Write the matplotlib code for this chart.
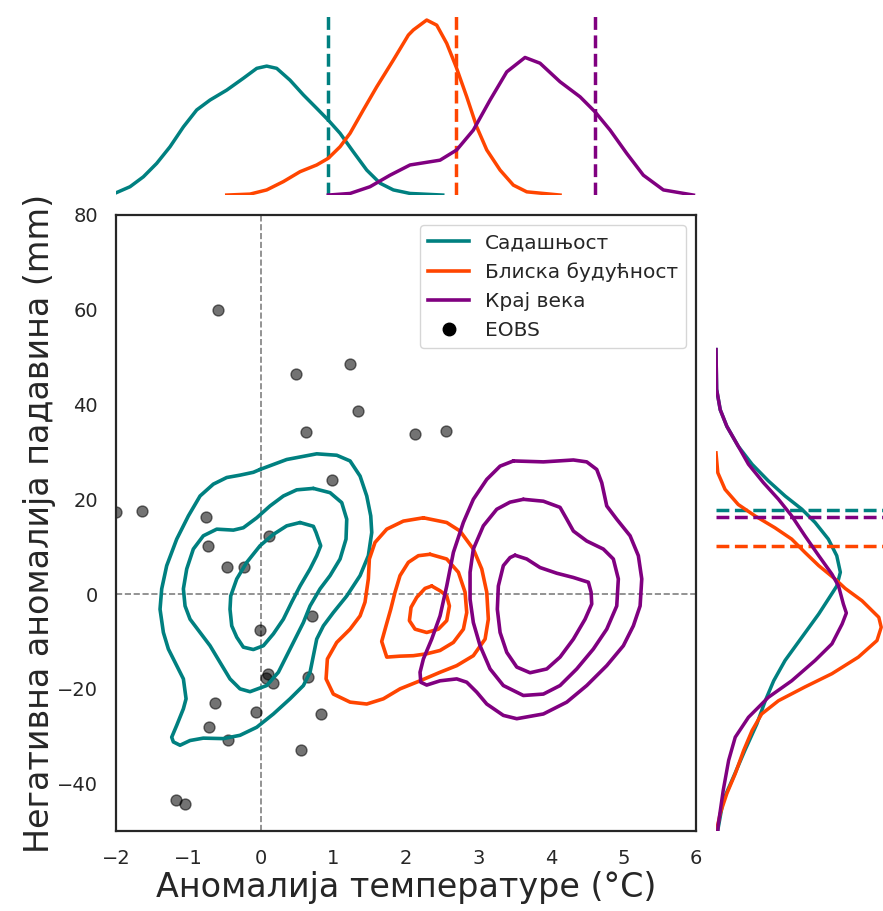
import matplotlib
matplotlib.use("Agg")
import matplotlib.pyplot as plt
import numpy as np
from matplotlib.lines import Line2D

# ---- data ----
COL_NOW, COL_NEAR, COL_END = "#008080", "#FF4500", "#800080"

# EOBS observations (temperature anomaly, negative precipitation anomaly)
eobs_t = [-0.59, 0.48, 1.23, 1.34, 0.62, 2.12, 2.55, 0.98, -2.00, -1.64,
          -0.76, -0.73, 0.11, -0.47, -0.23, -0.01, 0.70, 0.10, 0.07, 0.17,
          0.65, -0.63, -0.07, 0.83, -0.72, -0.46, 0.55, -1.17, -1.05]
eobs_p = [60.0, 46.5, 48.6, 38.7, 34.1, 33.7, 34.5, 24.0, 17.3, 17.5,
          16.2, 10.1, 12.2, 5.7, 5.7, -7.6, -4.6, -16.8, -17.7, -18.7,
          -17.5, -22.9, -24.8, -25.3, -28.0, -30.7, -33.0, -43.4, -44.2]

# KDE contour levels (outer -> inner), as (temperature, precipitation) vertices
now_levels = [
    [(-0.014, 26.3), (0.354, 28.4), (0.768, 29.6), (1.044, 29.3), (1.228, 28.1), (1.366, 24.9),
     (1.458, 20.7), (1.513, 16.5), (1.527, 13.0), (1.480, 8.1), (1.366, 3.9), (1.182, -0.4),
     (0.997, -3.9), (0.860, -6.7), (0.768, -9.5), (0.722, -13.0), (0.676, -16.5), (0.584, -19.3),
     (0.400, -22.1), (0.170, -25.3), (-0.059, -28.1), (-0.290, -29.8), (-0.520, -30.5),
     (-0.796, -30.4), (-0.979, -30.9), (-1.117, -31.9), (-1.209, -31.2), (-1.232, -30.2),
     (-1.163, -27.7), (-1.071, -24.2), (-1.034, -22.1), (-1.071, -17.9), (-1.163, -15.1),
     (-1.278, -11.6), (-1.347, -8.1), (-1.393, -3.2), (-1.370, 1.1), (-1.301, 6.0),
     (-1.163, 11.6), (-1.002, 16.5), (-0.841, 20.7), (-0.658, 23.2), (-0.473, 24.6),
     (-0.290, 25.1), (-0.106, 25.7)],
    [(0.722, 22.3), (0.952, 21.4), (1.113, 19.3), (1.182, 15.8), (1.172, 11.6), (1.090, 7.4),
     (0.952, 3.9), (0.814, 1.1), (0.676, -2.5), (0.584, -6.0), (0.469, -9.5), (0.354, -13.0),
     (0.239, -16.5), (0.078, -19.3), (-0.152, -20.6), (-0.290, -20.0), (-0.428, -17.9),
     (-0.566, -14.4), (-0.703, -10.9), (-0.841, -8.1), (-0.979, -5.3), (-1.048, -2.5),
     (-1.071, 1.1), (-1.025, 5.3), (-0.934, 9.5), (-0.796, 12.3), (-0.611, 13.7),
     (-0.382, 13.5), (-0.244, 14.0), (-0.059, 16.1), (0.124, 18.6), (0.308, 20.7), (0.492, 22.0)],
    [(0.538, 15.1), (0.722, 14.3), (0.759, 13.0), (0.823, 10.2), (0.768, 8.1), (0.676, 5.3),
     (0.538, 1.7), (0.423, -1.7), (0.308, -5.3), (0.170, -8.4), (0.032, -10.9), (-0.106, -11.7),
     (-0.244, -11.2), (-0.335, -9.1), (-0.404, -6.7), (-0.428, -3.2), (-0.418, -0.4),
     (-0.335, 3.2), (-0.197, 6.7), (-0.014, 10.2), (0.170, 12.6), (0.354, 14.4)],
]
near_levels = [
    [(2.239, 16.1), (2.561, 15.1), (2.745, 13.3), (2.928, 9.5), (3.044, 5.3), (3.113, 0.4),
     (3.135, -5.3), (3.090, -9.5), (2.928, -13.0), (2.699, -15.1), (2.469, -16.5), (2.193, -18.3),
     (1.917, -20.0), (1.687, -22.1), (1.458, -23.2), (1.228, -22.8), (0.997, -21.1),
     (0.897, -17.9), (0.915, -13.7), (1.044, -10.2), (1.228, -7.4), (1.366, -4.6), (1.434, -1.7),
     (1.480, 3.2), (1.494, 7.4), (1.572, 10.9), (1.734, 13.7), (1.963, 15.4)],
    [(2.331, 8.4), (2.561, 7.4), (2.722, 4.6), (2.814, 0.4), (2.837, -3.9), (2.791, -7.4),
     (2.653, -10.2), (2.469, -11.9), (2.285, -12.6), (2.101, -13.0), (1.917, -13.1),
     (1.734, -13.3), (1.664, -10.0), (1.724, -6.7), (1.789, -3.2), (1.848, 0.4), (1.917, 3.9),
     (2.032, 6.7), (2.170, 8.1)],
    [(2.354, 1.7), (2.469, 0.7), (2.561, -0.4), (2.598, -2.5), (2.561, -5.6), (2.446, -7.4),
     (2.285, -8.1), (2.124, -7.4), (2.046, -5.6), (2.069, -2.8), (2.147, -0.7), (2.262, 1.2)],
]
end_levels = [
    [(3.480, 28.1), (3.894, 27.9), (4.308, 28.3), (4.492, 27.9), (4.630, 26.3), (4.699, 23.5),
     (4.768, 18.6), (4.906, 15.8), (5.090, 12.3), (5.204, 8.1), (5.251, 3.2), (5.228, -2.5),
     (5.135, -6.7), (4.997, -10.9), (4.768, -15.1), (4.492, -19.3), (4.217, -22.8),
     (3.894, -25.3), (3.527, -26.3), (3.342, -25.6), (3.113, -23.2), (2.975, -20.7),
     (2.837, -18.6), (2.699, -17.9), (2.469, -18.3), (2.285, -19.2), (2.203, -18.6),
     (2.193, -16.5), (2.239, -13.7), (2.354, -9.5), (2.469, -4.6), (2.561, 1.7), (2.653, 8.8),
     (2.790, 15.1), (2.928, 20.0), (3.113, 24.2), (3.297, 27.0)],
    [(3.618, 20.0), (3.894, 19.6), (4.124, 18.3), (4.217, 15.8), (4.308, 13.3), (4.492, 11.2),
     (4.721, 9.5), (4.859, 7.4), (4.928, 3.2), (4.906, -2.5), (4.768, -7.4), (4.583, -11.6),
     (4.354, -15.8), (4.124, -19.3), (3.894, -21.1), (3.618, -21.4), (3.342, -19.3),
     (3.159, -15.8), (3.021, -10.9), (2.928, -6.0), (2.883, -1.1), (2.883, 4.6), (2.928, 9.5),
     (3.066, 14.4), (3.251, 17.9), (3.434, 19.4)],
    [(3.503, 8.2), (3.665, 7.4), (3.848, 5.6), (4.079, 4.4), (4.308, 3.5), (4.515, 2.5),
     (4.552, 0.4), (4.561, -2.1), (4.469, -5.3), (4.308, -9.5), (4.124, -13.3), (3.941, -15.8),
     (3.710, -16.6), (3.527, -15.4), (3.389, -12.3), (3.297, -8.1), (3.259, -3.2),
     (3.273, 1.7), (3.342, 6.0), (3.434, 7.7)],
]

# marginal densities of temperature anomaly
t_now = [-2.0, -1.807, -1.623, -1.439, -1.255, -1.071, -0.887, -0.703, -0.473, -0.244, -0.059,
         0.078, 0.216, 0.400, 0.584, 0.768, 0.928, 1.090, 1.273, 1.458, 1.641, 1.825, 2.055, 2.506]
d_now = [0.007, 0.026, 0.057, 0.099, 0.151, 0.213, 0.266, 0.297, 0.328, 0.365, 0.396,
         0.403, 0.396, 0.359, 0.313, 0.271, 0.234, 0.193, 0.135, 0.078, 0.037, 0.016, 0.005, 0.0]
t_near = [-0.473, -0.152, 0.078, 0.308, 0.538, 0.768, 0.928, 1.090, 1.228, 1.411, 1.595, 1.825,
          2.032, 2.101, 2.285, 2.423, 2.561, 2.690, 2.837, 2.975, 3.113, 3.297, 3.480, 3.665, 4.124]
d_near = [0.0, 0.003, 0.016, 0.042, 0.073, 0.094, 0.115, 0.151, 0.193, 0.266, 0.338, 0.422,
          0.500, 0.516, 0.547, 0.531, 0.474, 0.401, 0.307, 0.213, 0.141, 0.078, 0.031, 0.010, 0.0]
t_end = [0.928, 1.228, 1.503, 1.779, 2.055, 2.193, 2.469, 2.699, 2.928, 3.159, 3.389, 3.641,
         3.848, 4.124, 4.400, 4.607, 4.814, 5.044, 5.273, 5.549, 5.963]
d_end = [0.0, 0.005, 0.026, 0.062, 0.094, 0.099, 0.109, 0.141, 0.203, 0.297, 0.385, 0.430,
         0.412, 0.354, 0.307, 0.260, 0.203, 0.130, 0.062, 0.016, 0.0]
t_lines = [0.93, 2.69, 4.60]

# marginal densities of precipitation anomaly
p_now = [51.6, 43.2, 38.9, 35.4, 31.2, 27.4, 23.9, 20.7, 17.9, 15.1, 11.6, 8.1, 4.6, 1.7, 0.7,
         -4.2, -9.1, -14.0, -18.3, -22.5, -27.4, -33.0, -38.6, -43.5, -49.8]
dp_now = [0.0, 0.0001, 0.0007, 0.0018, 0.0037, 0.0060, 0.0087, 0.0115, 0.0143, 0.0165, 0.0187,
          0.0201, 0.0207, 0.0201, 0.0196, 0.0171, 0.0143, 0.0115, 0.0096, 0.0082, 0.0068,
          0.0048, 0.0029, 0.0012, 0.0003]
p_near = [29.8, 25.6, 22.1, 18.9, 16.5, 14.0, 11.6, 8.8, 6.0, 3.2, 1.2, -1.4, -4.9, -7.0, -9.8,
          -13.3, -16.8, -19.6, -22.5, -25.3, -28.8, -33.0, -37.9, -42.1, -46.3, -49.8]
dp_near = [0.0, 0.0003, 0.0015, 0.0037, 0.0065, 0.0098, 0.0126, 0.0148, 0.0171, 0.0198, 0.0215,
           0.0243, 0.0271, 0.0275, 0.0268, 0.0237, 0.0193, 0.0148, 0.0104, 0.0076, 0.0060,
           0.0046, 0.0032, 0.0018, 0.0007, 0.0001]
p_end = [51.6, 43.2, 38.9, 35.4, 31.2, 27.4, 23.5, 20.0, 16.5, 12.3, 8.1, 4.2, 1.7, -2.1, -4.0,
         -6.3, -10.5, -14.0, -18.3, -21.8, -26.0, -30.2, -35.1, -41.4, -48.4, -49.8]
dp_end = [0.0, 0.0001, 0.0007, 0.0018, 0.0037, 0.0054, 0.0079, 0.0104, 0.0126, 0.0148, 0.0171,
          0.0193, 0.0204, 0.0212, 0.0217, 0.0210, 0.0193, 0.0165, 0.0126, 0.0087, 0.0054,
          0.0032, 0.0021, 0.0012, 0.0004, 0.0003]
p_lines = [17.8, 10.1, 16.3]

labels = ["Садашњост", "Блиска будућност", "Крај века"]
colors = [COL_NOW, COL_NEAR, COL_END]

plt.rcParams["font.family"] = "DejaVu Sans"
TXT = "#262626"

fig = plt.figure(figsize=(8.83, 9.11), dpi=100)
ax = fig.add_axes([0.1314, 0.0878, 0.6569, 0.6762])
ax_top = fig.add_axes([0.1314, 0.7859, 0.6569, 0.2009], sharex=ax)
ax_right = fig.add_axes([0.8109, 0.0878, 0.1891, 0.6762], sharey=ax)

# joint panel
ax.axvline(0, color="gray", ls="--", lw=1.2, zorder=1)
ax.axhline(0, color="gray", ls="--", lw=1.2, zorder=1)
ax.scatter(eobs_t, eobs_p, s=62, c="black", alpha=0.55, edgecolors="black",
           linewidths=1, zorder=2)
for levels, col in zip([now_levels, near_levels, end_levels], colors):
    for lev in levels:
        pts = np.array(lev + [lev[0]])
        ax.plot(pts[:, 0], pts[:, 1], color=col, lw=2.6,
                solid_joinstyle="round", solid_capstyle="round", zorder=3)

ax.set_xlim(-2, 6)
ax.set_ylim(-50, 80)
ax.set_xticks(range(-2, 7))
ax.set_yticks(range(-40, 81, 20))
ax.tick_params(labelsize=14, length=0, pad=13, colors=TXT)
for sp in ax.spines.values():
    sp.set_color(TXT)
    sp.set_linewidth(1.6)
ax.set_xlabel("Аномалија температуре (°C)", fontsize=24, color=TXT, labelpad=2)
ax.set_ylabel("Негативна аномалија падавина (mm)", fontsize=24, color=TXT, labelpad=1)

handles = [Line2D([], [], color=c, lw=2.6) for c in colors]
handles.append(Line2D([], [], color="black", marker="o", ls="none", markersize=9))
ax.legend(handles, labels + ["EOBS"], loc="upper right", fontsize=14.5,
          frameon=True, edgecolor="#cccccc", labelcolor=TXT)

# top marginal
for t, d, col, v in zip([t_now, t_near, t_end], [d_now, d_near, d_end], colors, t_lines):
    ax_top.plot(t, d, color=col, lw=2.5, solid_joinstyle="round")
    ax_top.axvline(v, color=col, ls="--", lw=2.5)
ax_top.set_ylim(0, 0.572)
ax_top.axis("off")

# right marginal
for p, d, col, v in zip([p_now, p_near, p_end], [dp_now, dp_near, dp_end], colors, p_lines):
    ax_right.plot(d, p, color=col, lw=2.5, solid_joinstyle="round")
    ax_right.axhline(v, color=col, ls="--", lw=2.5)
ax_right.set_xlim(0, 0.0278)
ax_right.axis("off")

fig.savefig("out.png", dpi=100)
